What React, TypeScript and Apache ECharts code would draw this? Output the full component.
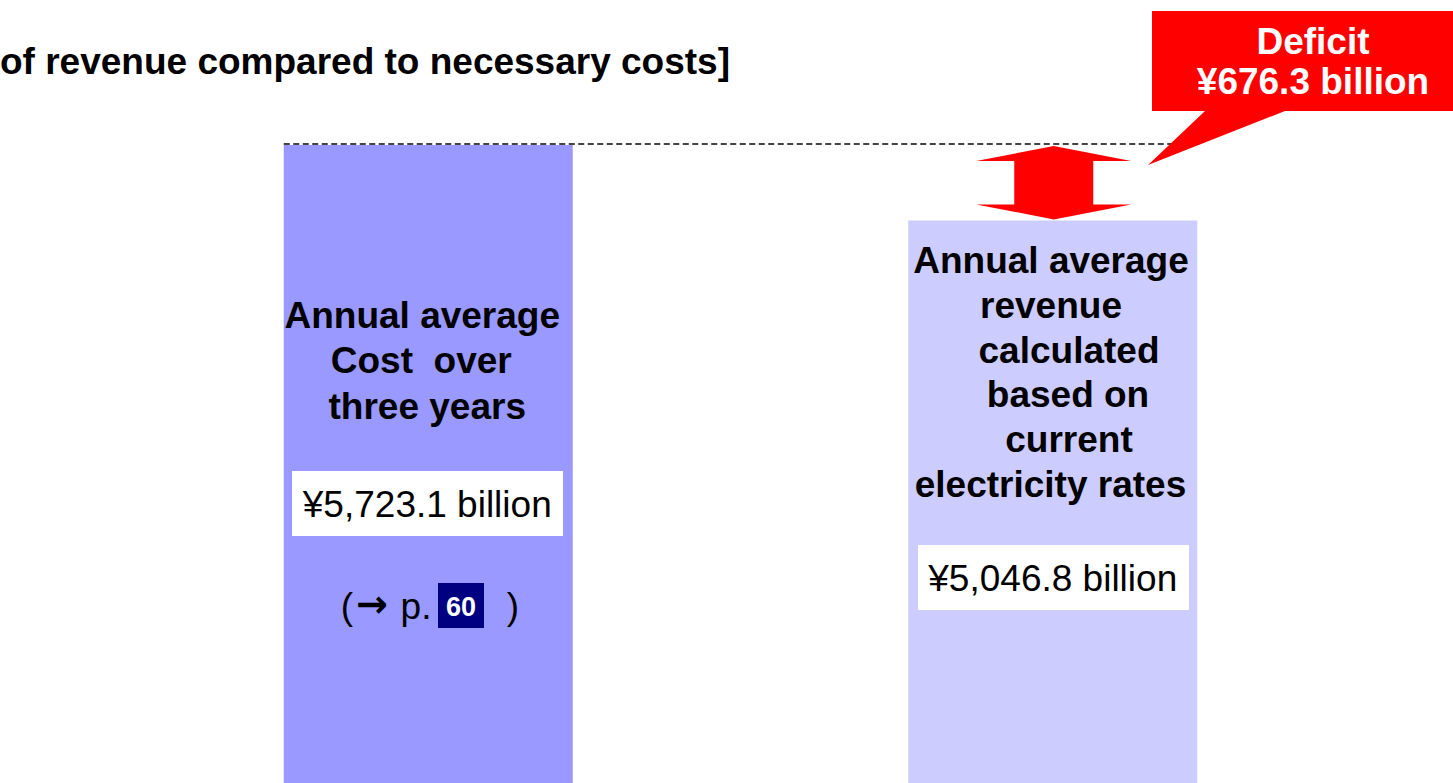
import React, { useEffect, useRef } from "react";
import * as echarts from "echarts";

const categories = ["Annual average cost over three years", "Annual average revenue based on current electricity rates"];
const values = [5723.1, 5046.8];
const barColors = ["#9999FF", "#CCCCFF"];
const deficitLabel = ["Deficit", "¥676.3 billion"];
const valueLabels = ["¥5,723.1 billion", "¥5,046.8 billion"];
const titleText = "of revenue compared to necessary costs]";
const leftLines = ["Annual average", "Cost  over", "three years"];
const rightLines = ["Annual average", "revenue", "calculated", "based on", "current", "electricity rates"];
const pageRef = "60";

const FF = "Arial, 'Liberation Sans', Helvetica, sans-serif";

export default function App() {
  const ref = useRef<HTMLDivElement>(null);
  useEffect(() => {
    if (!ref.current) return;
    const chart = echarts.init(ref.current, null, { renderer: "svg" });
    const barW = 289;
    chart.setOption({
      animation: false,
      backgroundColor: "#ffffff",
      grid: { left: 116, width: 1249, top: 145, height: 652 },
      xAxis: { type: "category", data: categories, show: false },
      yAxis: { type: "value", min: 0, max: values[0], show: false, splitLine: { show: false } },
      series: [
        {
          type: "bar",
          barWidth: barW,
          data: values.map((v, i) => ({ value: v, itemStyle: { color: barColors[i] } })),
          silent: true,
        },
      ],
    });

    const [xL, yTop] = chart.convertToPixel({ seriesIndex: 0 }, [0, values[0]]) as number[];
    const [xR, yBot] = chart.convertToPixel({ seriesIndex: 0 }, [1, values[1]]) as number[];

    const txt = (text: string, x: number, y: number, size: number, bold: boolean, fill = "#000", align = "center", family = FF) => ({
      type: "text",
      x,
      y,
      z: 10,
      style: {
        text,
        fill,
        align,
        verticalAlign: "middle",
        font: `${bold ? "bold " : ""}${size}px ${family}`,
      },
    });

    const cx = xR + 1;
    const y1 = yTop + 1;
    const y2 = yBot - 1;
    const hw = 77.5;
    const sw = 39.5;
    const hl = 15;
    const FS = 37;
    const leftOffsets = [-6, -7, -1];
    const rightCenters = [1051, 1051, 1069, 1068, 1069, 1050.5];

    const graphic: any[] = [
      txt(titleText, 0, 61, FS, true, "#000", "left"),
      {
        type: "line",
        z: 5,
        shape: { x1: xL - barW / 2, y1: yTop - 1, x2: xR + barW / 2 + 2, y2: yTop - 1 },
        style: { stroke: "#444444", lineWidth: 2, lineDash: [6, 3.5] },
      },
      {
        type: "polygon",
        z: 6,
        shape: {
          points: [
            [cx, y1],
            [cx + hw, y1 + hl],
            [cx + sw, y1 + hl],
            [cx + sw, y2 - hl],
            [cx + hw, y2 - hl],
            [cx, y2],
            [cx - hw, y2 - hl],
            [cx - sw, y2 - hl],
            [cx - sw, y1 + hl],
            [cx - hw, y1 + hl],
          ],
        },
        style: { fill: "#FF0000" },
      },
      {
        type: "polygon",
        z: 7,
        shape: {
          points: [
            [1152, 11],
            [1460, 11],
            [1460, 111],
            [1285, 111],
            [1148, 165],
            [1205, 111],
            [1152, 111],
          ],
        },
        style: { fill: "#FF0000" },
      },
      txt(deficitLabel[0], 1313, 41, FS, true, "#fff"),
      txt(deficitLabel[1], 1313, 81, FS, true, "#fff"),
      // left bar labels
      ...leftLines.map((l, i) => txt(l, xL + leftOffsets[i], 315 + i * 45.5, FS, true)),
      { type: "rect", z: 8, shape: { x: 292, y: 471, width: 271, height: 65 }, style: { fill: "#fff" } },
      txt(valueLabels[0], xL - 1, 504, FS, false),
      txt("(", 347, 606, FS, false),
      txt("\u2192", 372, 604, 38, true, "#000", "center", "'DejaVu Sans', sans-serif"),
      txt("p.", 416, 606, FS, false),
      { type: "rect", z: 8, shape: { x: 438, y: 583, width: 46, height: 45 }, style: { fill: "#000080" } },
      txt(pageRef, 461, 607, 27, true, "#fff"),
      txt(")", 513, 606, FS, false),
      // right bar labels
      ...rightLines.map((l, i) => txt(l, rightCenters[i], 260.5 + i * 44.8, FS, true)),
      { type: "rect", z: 8, shape: { x: 918, y: 545, width: 271, height: 65 }, style: { fill: "#fff" } },
      txt(valueLabels[1], xR, 578, FS, false),
    ];
    chart.setOption({ graphic });
    return () => chart.dispose();
  }, []);
  return <div ref={ref} style={{ position: "absolute", left: 0, top: 0, width: 1453, height: 783 }} />;
}
